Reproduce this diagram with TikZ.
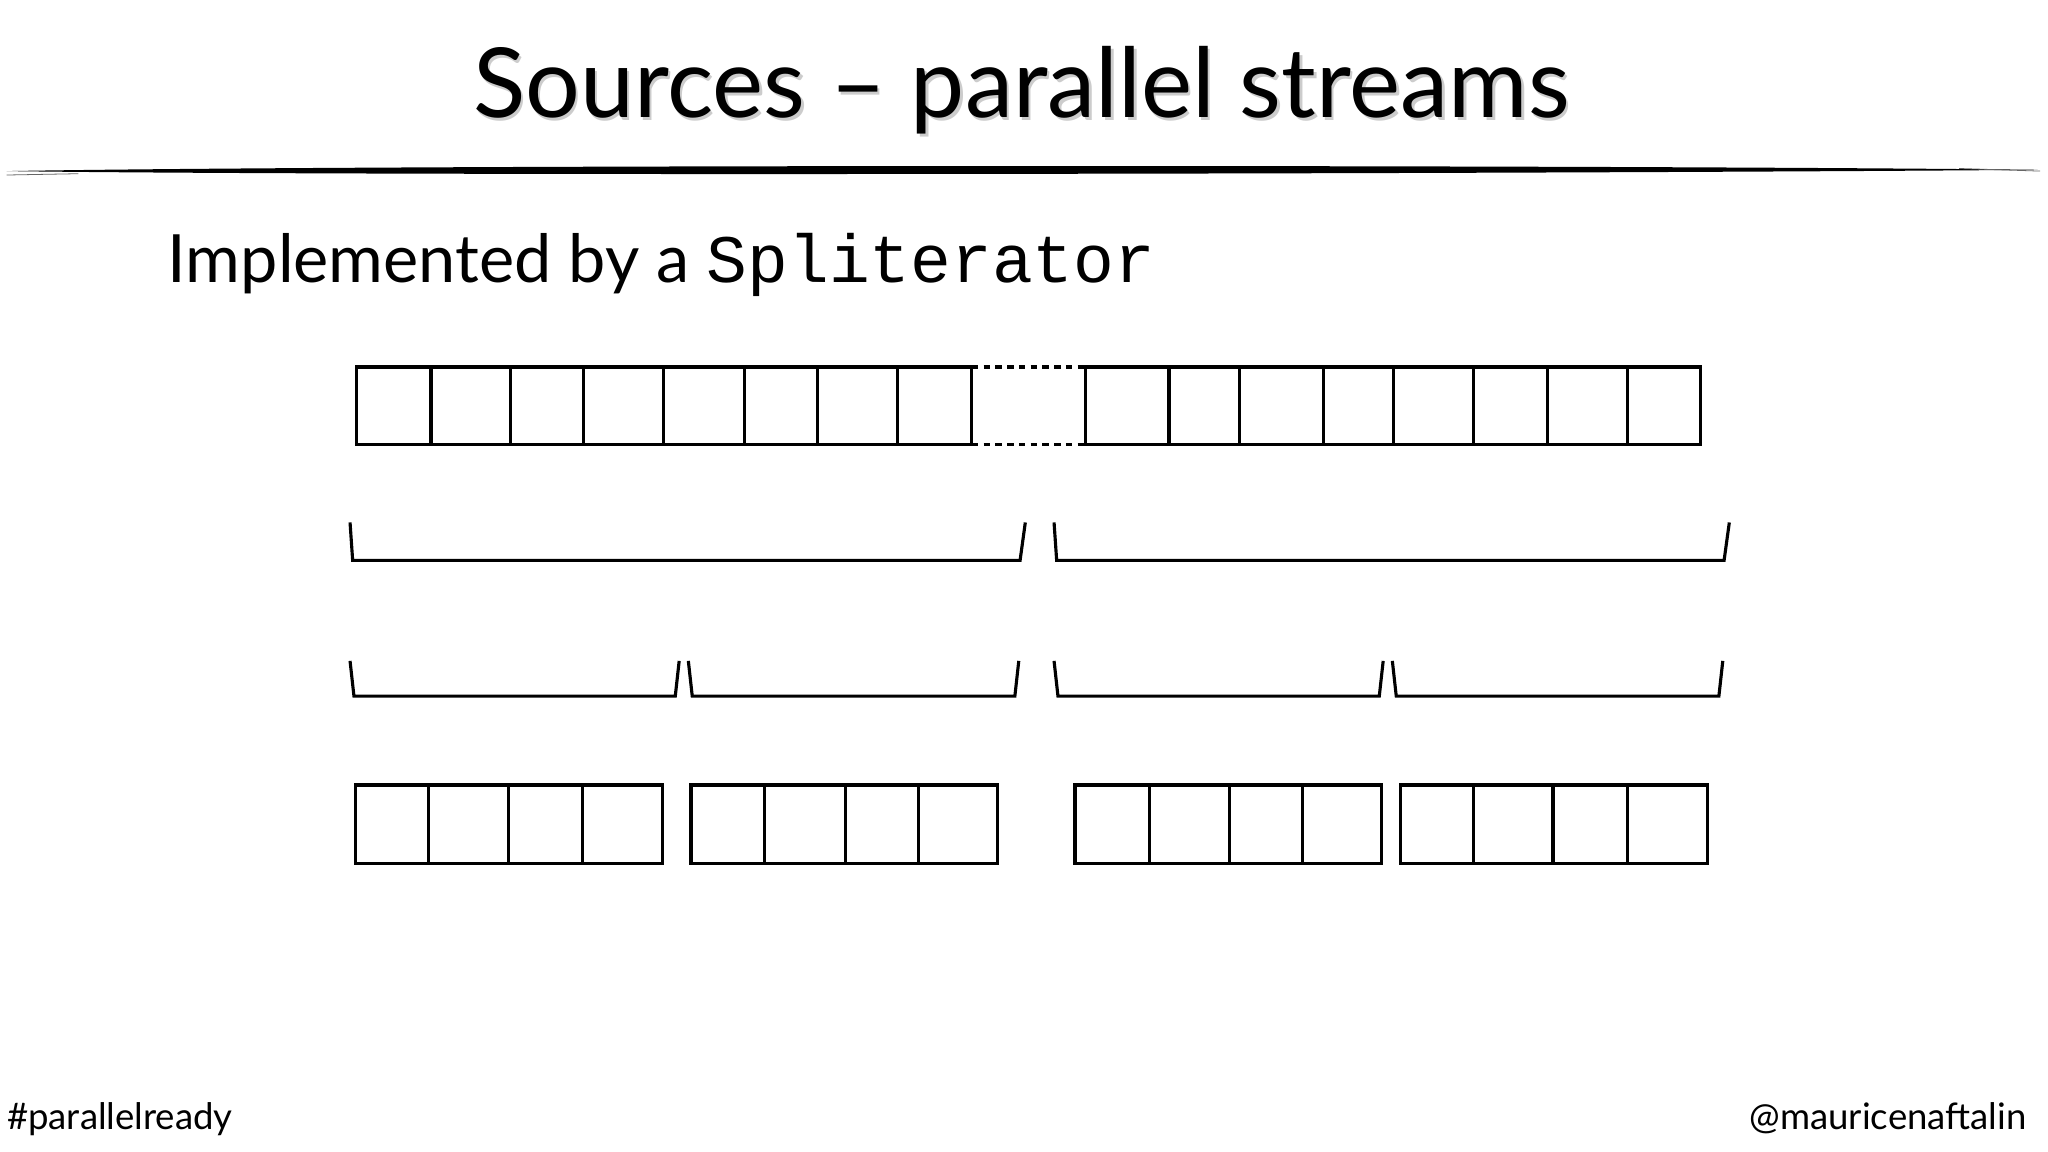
\documentclass[tikz,border=0pt]{standalone}
\usepackage{fontspec}
\setmainfont{Lato}
\newfontfamily\cour{Liberation Mono}
\begin{document}
\begin{tikzpicture}[x=0.5pt,y=-0.5pt,
  ln/.style={line width=1.2pt,black},
  cellrow/.style={ln},
  brk/.style={ln,line join=miter}]
\useasboundingbox (0,0) rectangle (1568,882);
\fill[white] (0,0) rectangle (1568,882);
% title
\node[anchor=base,font=\fontsize{37}{40}\selectfont,text=black!20,xshift=1pt,yshift=-1pt] (tsh) at (782,90) {Sources – parallel streams};
\node[anchor=base,font=\fontsize{37}{40}\selectfont] (title) at (782,90) {Sources – parallel streams};
% brushed rule
\fill[black] (5,131) .. controls (300,126) and (1200,126) .. (1560,130) .. controls (1200,133) and (300,135) .. (5,131) -- cycle;
\draw[black!60,line width=0.3pt] (5,134) -- (60,133);
\draw[black!60,line width=0.3pt] (1500,129) -- (1562,131);
% subtitle
\node[anchor=base west,font=\fontsize{25.5}{28}\selectfont,inner sep=0] (sub) at (128,216) {Implemented by a {\cour\fontsize{26}{28}\selectfont Spliterator}};
% top row
\foreach \a/\b in {273/330,330/391,391/447,447/508,508/570,570/626,626/687,687/744,
                   831/895,895/949,949/1013,1013/1067,1067/1128,1128/1185,1185/1246,1246/1302}
  \draw[cellrow] (\a,281) rectangle (\b,340);
\draw[ln,dash pattern=on 2.5pt off 2pt] (744,281) -- (831,281);
\draw[ln,dash pattern=on 2.5pt off 2pt] (744,340) -- (831,340);
% brackets row 1
\draw[brk] (268,400) -- (270,429) -- (781,429) -- (785,400);
\draw[brk] (807,400) -- (809,429) -- (1320,429) -- (1324,400);
% brackets row 2
\foreach \a/\b in {268/520,527/780,807/1059,1066/1319}
  \draw[brk] (\a,506) -- (\a+3,533) -- (\b-3,533) -- (\b,506);
% bottom rows
\foreach \a/\b in {272/328,328/389,389/446,446/507,
                   529/585,585/647,647/703,703/764,
                   823/880,880/941,941/997,997/1058,
                   1072/1128,1128/1189,1189/1246,1246/1307}
  \draw[cellrow] (\a,601) rectangle (\b,661);
% footer
\node[anchor=base west,font=\fontsize{14}{16}\selectfont,inner sep=0] (tag) at (5,865) {\#parallelready};
\node[anchor=base east,font=\fontsize{14}{16}\selectfont,inner sep=0] (auth) at (1552,865) {@mauricenaftalin};
\end{tikzpicture}
\end{document}
